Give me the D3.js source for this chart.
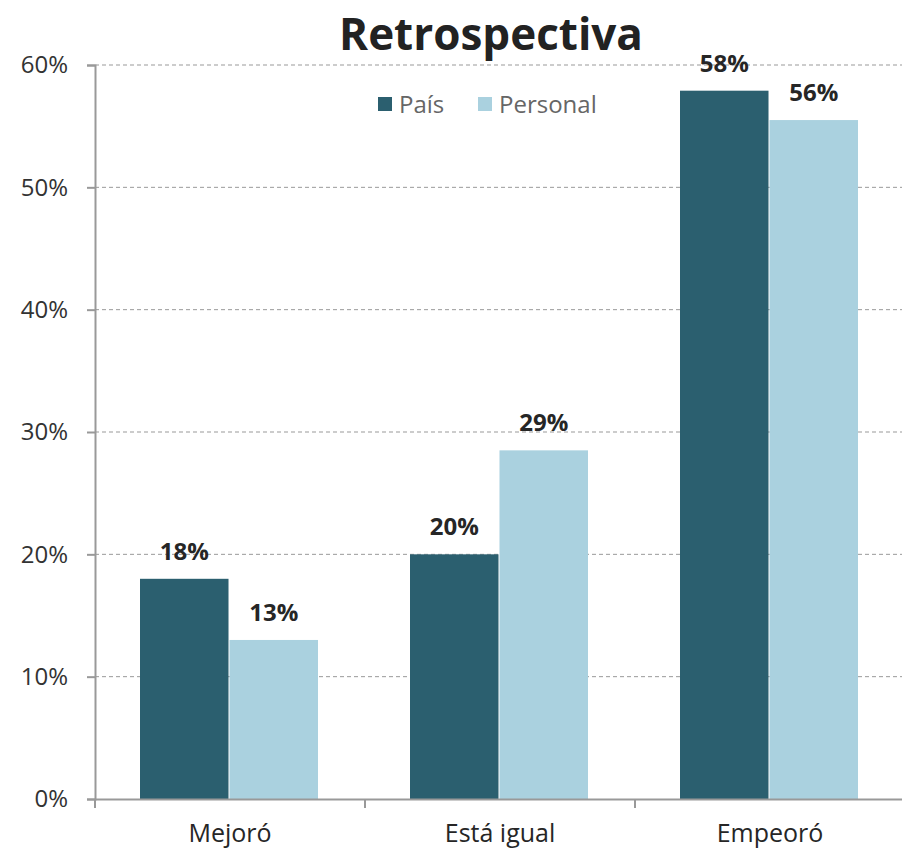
<!DOCTYPE html>
<html><head><meta charset="utf-8">
<script src="https://cdn.jsdelivr.net/npm/d3@7"></script>
<style>body{margin:0;background:#fff;} text{font-family:"Open Sans","Noto Sans",sans-serif;}</style>
</head><body>
<svg id="c" width="902" height="852"></svg>
<script>
const categories = ["Mejoró", "Está igual", "Empeoró"];
const seriesNames = ["País", "Personal"];
const pais = [18.0, 20.0, 57.9];
const personal = [13.0, 28.5, 55.5];
const labelsPais = ["18%", "20%", "58%"];
const labelsPersonal = ["13%", "29%", "56%"];
const yTicks = [0, 10, 20, 30, 40, 50, 60];
const colors = ["#2b5f6f", "#aad1df"];

(function(){
const svg = d3.select("#c");
const L = 95, R = 905, T = 65, B = 799;
const x = d3.scaleBand().domain(categories).range([L, R]).paddingInner(0).paddingOuter(0);
const xs = d3.scaleBand().domain(seriesNames).range([45, 223]).paddingInner(0.011);
const y = d3.scaleLinear().domain([0, 60]).range([B, T]);

// grid
svg.append("g").selectAll("line").data(yTicks.filter(d => d > 0)).join("line")
  .attr("x1", L).attr("x2", 902).attr("y1", d => y(d)).attr("y2", d => y(d))
  .attr("stroke", "#999").attr("stroke-width", 1).attr("stroke-dasharray", "4,3");

// y axis
const yAxis = svg.append("g").attr("transform", `translate(${L},0)`)
  .call(d3.axisLeft(y).tickValues(yTicks).tickFormat(d => d + "%").tickSize(8).tickPadding(19));
yAxis.select(".domain").attr("stroke", "#999").attr("stroke-width", 2);
yAxis.selectAll(".tick line").attr("stroke", "#999").attr("stroke-width", 2);
yAxis.selectAll(".tick text").attr("font-size", 24).attr("fill", "#333")
  .attr("font-family", "'Open Sans',sans-serif");

const series = [pais, personal];
const labels = [labelsPais, labelsPersonal];
series.forEach((vals, si) => {
  svg.append("g").selectAll("rect").data(categories).join("rect")
    .attr("x", c => x(c) + xs(seriesNames[si]))
    .attr("width", xs.bandwidth())
    .attr("y", (c, i) => y(vals[i]))
    .attr("height", (c, i) => y(0) - y(vals[i]))
    .attr("fill", colors[si]);
  svg.append("g").selectAll("text").data(categories).join("text")
    .attr("x", c => x(c) + xs(seriesNames[si]) + xs.bandwidth() / 2)
    .attr("y", (c, i) => y(vals[i]) - 19)
    .attr("text-anchor", "middle").attr("font-size", 24).attr("font-weight", "bold").attr("fill", "#262626")
    .text((c, i) => labels[si][i]);
});

// x axis
const xAxis = svg.append("g").attr("transform", `translate(0,${B})`)
  .call(d3.axisBottom(x).tickSize(0).tickPadding(25));
xAxis.select(".domain").attr("stroke", "#999").attr("stroke-width", 2);
xAxis.selectAll(".tick text").attr("font-size", 25).attr("fill", "#262626").attr("font-family", "'Open Sans',sans-serif");
svg.append("g").selectAll("line").data(categories).join("line")
  .attr("x1", c => x(c)).attr("x2", c => x(c)).attr("y1", B).attr("y2", B + 9)
  .attr("stroke", "#999").attr("stroke-width", 2);

// title
svg.append("text").attr("x", 491).attr("y", 50).attr("text-anchor", "middle")
  .attr("font-size", 44).attr("font-weight", "bold").attr("fill", "#222").text("Retrospectiva");

// legend
const lg = svg.append("g");
const legendX = [378, 478];
seriesNames.forEach((n, i) => {
  lg.append("rect").attr("x", legendX[i]).attr("y", 97).attr("width", 14).attr("height", 14).attr("fill", colors[i]);
  lg.append("text").attr("x", legendX[i] + 21).attr("y", 113).attr("font-size", 24).attr("fill", "#666").text(n);
});
})();
</script>
</body></html>
